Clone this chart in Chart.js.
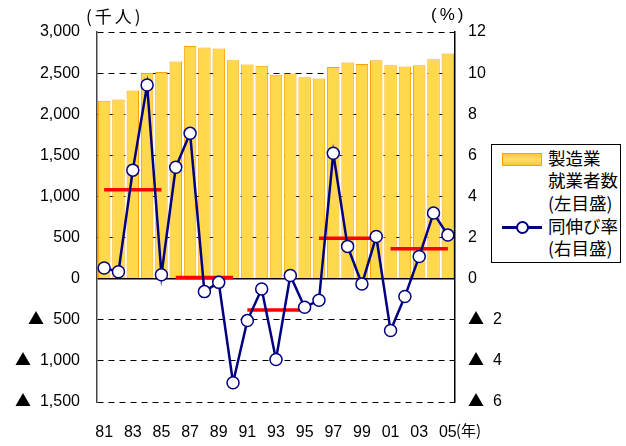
<!DOCTYPE html>
<html>
<head>
<meta charset="utf-8">
<script src="https://cdn.jsdelivr.net/npm/chart.js@4/dist/chart.umd.min.js"></script>
<style>
  @font-face { font-family: "TriMark"; src: local("Noto Sans CJK JP"), local("Noto Sans CJK JP Regular"), local("NotoSansCJKjp-Regular"); unicode-range: U+25B2; }
  body { margin: 0; background: #fff; }
  #wrap { position: relative; width: 626px; height: 446px; }
  .lbl { position: absolute; font-family: "Liberation Sans", Arial, "Noto Sans CJK JP", sans-serif; color: #000; white-space: nowrap; }
  .jp { font-family: "Noto Sans CJK JP", sans-serif; }
  #legend { position: absolute; left: 491px; top: 144px; width: 130px; height: 119px; border: 1px solid #000; box-sizing: border-box; background: #fff; }
  #legend .row { position: absolute; left: 56px; font-family: "Noto Sans CJK JP", sans-serif; font-size: 17.5px; line-height: 22px; }
  .sw-bar { position: absolute; left: 10px; top: 8px; width: 40px; height: 13px; box-sizing: border-box; border: 1px solid #FFA200; background: linear-gradient(to bottom, #FFC830, #FFE070 50%, #FFC830); }
  .sw-line { position: absolute; left: 10px; top: 81px; width: 40px; height: 3px; background: #000080; }
  .sw-dot { position: absolute; left: 24px; top: 76px; width: 13px; height: 13px; box-sizing: border-box; border: 2px solid #000080; border-radius: 50%; background: #fff; }
</style>
</head>
<body>
<div id="wrap">
  <canvas id="employment_chart" width="626" height="446"></canvas>
  <div class="lbl jp" style="left:86px; top:3px; font-size:17px; letter-spacing:3px;">(千人)</div>
  <div class="lbl" style="left:431px; top:5px; font-size:17px; letter-spacing:3px;">(%)</div>
  <div class="lbl jp" style="left:456px; top:419px; font-size:15px;">(年)</div>
  <div id="legend">
    <div class="sw-bar"></div>
    <div class="sw-line"></div>
    <div class="sw-dot"></div>
    <div class="row" style="top:2px;">製造業</div>
    <div class="row" style="top:24px;">就業者数</div>
    <div class="row" style="top:47px;">(左目盛)</div>
    <div class="row" style="top:70px;">同伸び率</div>
    <div class="row" style="top:92px;">(右目盛)</div>
  </div>
</div>
<script>
// years 1981-2005
const years = ['81','82','83','84','85','86','87','88','89','90','91','92','93','94','95','96','97','98','99','00','01','02','03','04','05'];
// manufacturing employees (thousand people, left axis)
const employees = [2165, 2180, 2290, 2500, 2515, 2640, 2830, 2810, 2800, 2655, 2605, 2590, 2480, 2495, 2450, 2435, 2575, 2630, 2610, 2655, 2595, 2580, 2595, 2670, 2740];
// year-on-year growth (%, right axis)
const growth = [0.52, 0.34, 5.28, 9.42, 0.19, 5.42, 7.07, -0.63, -0.18, -5.06, -2.04, -0.50, -3.93, 0.15, -1.39, -1.05, 6.10, 1.57, -0.26, 2.05, -2.52, -0.87, 1.08, 3.19, 2.12];
// 5-year period averages (%, right axis)
const periodStart = [0, 5, 10, 15, 20];
const periodAvg = [4.32, 0.06, -1.52, 1.97, 1.46];

const fontNum = { family: 'TriMark, "Liberation Sans", Arial, "Noto Sans CJK JP", sans-serif', size: 16 };

function fmt(v) {
    const s = Math.abs(v).toLocaleString('en-US');
    return v < 0 ? '▲  ' + s : s;
}

const avgSets = periodStart.map(function(st, k) {
    const d = years.map(function(y, i) {
        return (i >= st && i < st + 5) ? periodAvg[k] : null;
    });
    return {
        type: 'line',
        label: 'avg' + k,
        data: d,
        yAxisID: 'y1',
        borderColor: '#FF0000',
        borderWidth: 3.5,
        pointRadius: 0,
        spanGaps: false,
        order: 1
    };
});

const config_employment = {
    type: 'bar',
    data: {
        labels: years,
        datasets: [{
            type: 'line',
            label: '同伸び率',
            data: growth,
            yAxisID: 'y1',
            borderColor: '#000080',
            borderWidth: 2.5,
            pointRadius: 6,
            pointBorderWidth: 1.5,
            pointBackgroundColor: '#FFFFFF',
            pointBorderColor: '#000080',
            tension: 0,
            order: 0
        }].concat(avgSets).concat([{
            type: 'bar',
            label: '製造業就業者数',
            data: employees,
            yAxisID: 'y',
            backgroundColor: '#FFD84B',
            borderColor: '#FFA200',
            borderWidth: 1,
            categoryPercentage: 1.0,
            barPercentage: 0.87,
            order: 2
        }])
    },
    options: {
        responsive: false,
        animation: false,
        layout: { padding: { left: 0, right: 121, top: 32, bottom: 0 } },
        plugins: { legend: { display: false }, tooltip: { enabled: false } },
        scales: {
            x: {
                grid: { display: false },
                border: { display: false },
                ticks: {
                    color: '#000',
                    font: fontNum,
                    padding: 13,
                    autoSkip: false,
                    maxRotation: 0,
                    callback: function(v, i) { return i % 2 === 0 ? years[i] : ''; }
                },
                afterFit: function(s) { s.height = 44; }
            },
            y: {
                position: 'left',
                min: -1500,
                max: 3000,
                ticks: {
                    stepSize: 500,
                    color: '#000',
                    font: fontNum,
                    padding: 17,
                    callback: function(v) { return fmt(v); }
                },
                grid: {
                    drawTicks: false,
                    color: '#000',
                    lineWidth: function(c) { return (c.tick && c.tick.value === 0) ? 1.5 : 1; }
                },
                border: {
                    color: '#444',
                    width: 1.5,
                    dash: function(c) { return (c.tick && c.tick.value === 0) ? [] : [6, 5]; }
                },
                afterFit: function(s) { s.width = 97; }
            },
            y1: {
                position: 'right',
                min: -6,
                max: 12,
                ticks: {
                    stepSize: 2,
                    color: '#000',
                    font: fontNum,
                    padding: 13,
                    callback: function(v) { return fmt(v); }
                },
                grid: { drawOnChartArea: false, drawTicks: false },
                border: { color: '#000', width: 1.5 },
                afterFit: function(s) { s.width = 50; }
            }
        }
    }
};

function drawChart() {
    new Chart(document.getElementById('employment_chart'), config_employment);
}
document.fonts.load('16px TriMark', '▲').then(drawChart, drawChart);
</script>
</body>
</html>
